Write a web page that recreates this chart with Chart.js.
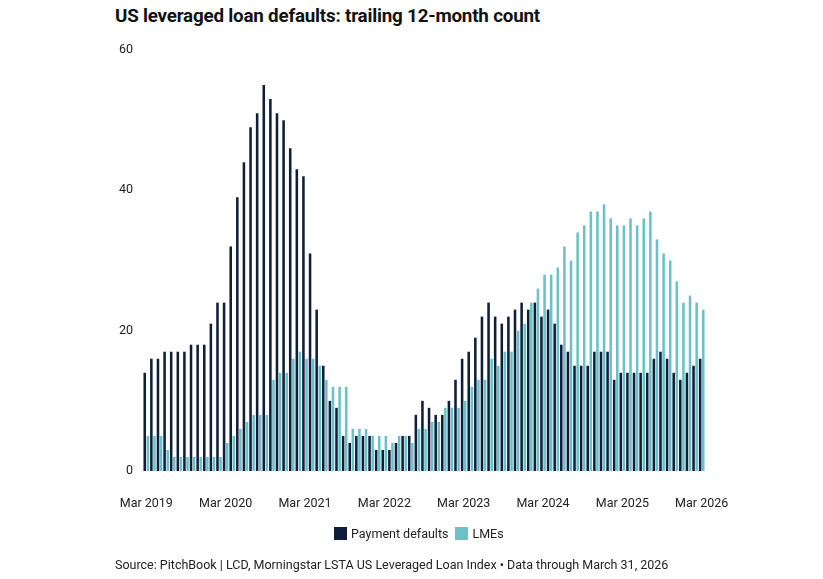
<!DOCTYPE html>
<html>
<head>
<meta charset="utf-8">
<script src="https://cdn.jsdelivr.net/npm/chart.js@4"></script>
<style>
  html,body{margin:0;padding:0;background:#fff;}
  #wrap{position:relative;width:823px;height:579px;overflow:hidden;font-family:Roboto,"Liberation Sans",sans-serif;color:#111;}
  #title{position:absolute;left:115px;top:5px;font-size:18.8px;font-weight:bold;letter-spacing:-0.2px;}
  #source{position:absolute;left:115px;top:557px;font-size:12.5px;color:#222;}
  #chart{position:absolute;left:0;top:0;}
  #legend{position:absolute;left:334px;top:526px;display:flex;align-items:center;font-size:12.5px;color:#222;white-space:nowrap;}
  #legend .sw{display:inline-block;width:13px;height:13px;margin-right:4px;}
  #legend .it{display:flex;align-items:center;margin-right:7px;}
</style>
</head>
<body>
<div id="wrap">
  <div id="title">US leveraged loan defaults: trailing 12-month count</div>
  <canvas id="chart" width="823" height="579"></canvas>
  <div id="legend"></div>
  <div id="source">Source: PitchBook | LCD, Morningstar LSTA US Leveraged Loan Index • Data through March 31, 2026</div>
</div>
<script>
// ── Data (monthly, Mar 2019 → Mar 2026) ──
const monthNames = ['Jan','Feb','Mar','Apr','May','Jun','Jul','Aug','Sep','Oct','Nov','Dec'];
const startYear = 2019, startMonth = 2, months = 85;
const labels = [];
for(let i=0;i<months;i++){
  const m=(startMonth+i)%12, y=startYear+Math.floor((startMonth+i)/12);
  labels.push(monthNames[m]+' '+y);
}
const paymentDefaults = [
  14,16,16,17,17,17,17,18,18,18,21,24,24,32,39,44,49,51,55,53,51,50,46,43,42,31,23,15,10,9,
  5,4,5,5,5,3,3,3,4,5,5,8,10,9,8,8,10,13,16,17,19,22,24,22,21,22,23,24,23,24,
  22,23,21,18,17,15,15,15,17,17,17,13,14,14,14,14,14,16,17,16,14,13,14,15,16
];
const lmes = [
  5,5,5,3,2,2,2,2,2,2,2,2,4,5,6,7,8,8,8,13,14,14,16,17,16,16,15,13,12,12,
  12,6,6,6,5,5,5,4,5,5,4,6,6,7,7,9,9,9,10,12,13,13,16,15,17,17,20,21,24,26,
  28,28,29,32,30,34,35,37,37,38,36,35,35,36,35,36,37,33,31,30,27,24,25,24,23
];
const seriesNames = ['Payment defaults','LMEs'];
const seriesColors = ['#0e1f3b','#6cc0c8'];
const yTicks = [0,20,40,60];

const fontFam = 'Roboto, "Liberation Sans", sans-serif';

// ── Legend (HTML so it can sit off-centre like the original) ──
const legendEl=document.getElementById('legend');
seriesNames.forEach((n,i)=>{
  const it=document.createElement('span'); it.className='it';
  const sw=document.createElement('span'); sw.className='sw'; sw.style.background=seriesColors[i];
  it.appendChild(sw); it.appendChild(document.createTextNode(n));
  legendEl.appendChild(it);
});

new Chart(document.getElementById('chart'),{
  type:'bar',
  data:{labels:labels,datasets:[
    {label:seriesNames[0],data:paymentDefaults,backgroundColor:seriesColors[0],categoryPercentage:0.94,barPercentage:0.82},
    {label:seriesNames[1],data:lmes,backgroundColor:seriesColors[1],categoryPercentage:0.94,barPercentage:0.82}
  ]},
  options:{
    responsive:false,animation:false,
    layout:{padding:{left:100,right:118,top:50,bottom:61}},
    plugins:{
      legend:{display:false},
      tooltip:{enabled:false}
    },
    scales:{
      x:{
        grid:{display:false,drawTicks:false},border:{display:false},
        ticks:{autoSkip:false,maxRotation:0,minRotation:0,padding:25,color:'#222',font:{family:fontFam,size:12.5},
          callback:function(v,i){return i%12===0?labels[i]:'';}},
        afterFit:s=>{s.height=47;}
      },
      y:{
        min:0,max:60,
        grid:{display:false,drawTicks:false},border:{display:false},
        afterBuildTicks:s=>{s.ticks=yTicks.map(v=>({value:v}));},
        ticks:{padding:10,color:'#222',font:{family:fontFam,size:12.5}},
        afterFit:s=>{s.width=43;}
      }
    }
  }
});
</script>
</body>
</html>
